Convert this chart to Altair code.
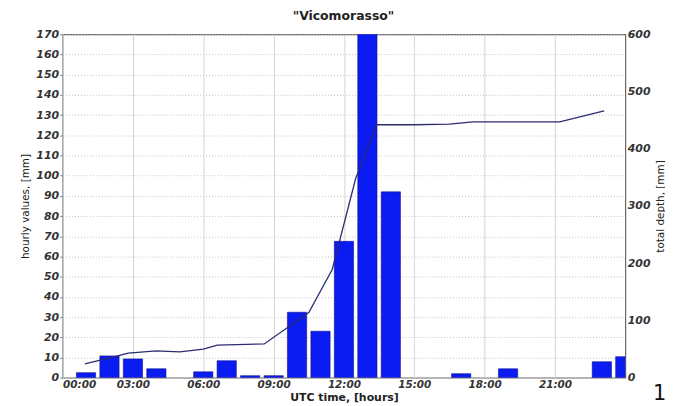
import altair as alt
import pandas as pd

# hourly rainfall (bars, left axis)
hours = list(range(1, 25))
hourly_mm = [2.5, 10.8, 9.3, 4.4, 0, 2.9, 8.4, 1, 1, 32.4, 23, 67.5, 175, 92,
             0, 0, 2, 0, 4.4, 0, 0, 0, 7.9, 10.4]

# cumulative depth (line, right axis)
line_hours = [0.95, 2.35, 2.8, 4.0, 5.0, 6.0, 6.6, 8.6, 10.5, 11.5, 12.5, 13.4,
              15.0, 16.5, 17.5, 21.2, 23.1]
total_mm = [24, 38, 43, 47, 45, 50, 57, 59, 114, 189, 348, 442,
            442, 443, 447, 447, 466]

x_tick_values = [0, 3, 6, 9, 12, 15, 18, 21]
x_tick_labels = ["00:00", "03:00", "06:00", "09:00", "12:00", "15:00", "18:00", "21:00"]
left_ticks = list(range(0, 171, 10))
right_ticks = list(range(0, 601, 100))
title_text = ['"Vicomorasso"']
corner_text = ["1"]

FONT = "DejaVu Sans"

bars_df = pd.DataFrame({"hour": hours, "v": hourly_mm})
line_df = pd.DataFrame({"hour": line_hours, "total": total_mm})
title_df = pd.DataFrame({"t": title_text})
txt_df = pd.DataFrame({"t": corner_text})

label_map = "{" + ",".join(f"'{v}':'{l}'" for v, l in zip(x_tick_values, x_tick_labels)) + "}"

x_scale = alt.Scale(domain=[0, 24], nice=False, zero=False)

x_axis = alt.Axis(
    values=x_tick_values,
    labelExpr=f"{label_map}[datum.value + '']",
    title="UTC time, [hours]",
    titleFont=FONT, titleFontSize=11, titleFontWeight="bold", titleColor="#222",
    titlePadding=1,
    labelFont=FONT, labelFontSize=10.5, labelFontWeight="bold", labelFontStyle="italic",
    labelColor="#333", labelPadding=2,
    grid=True, gridColor="#d4d4d4", gridWidth=1,
    domain=False, ticks=False,
)

bars = (
    alt.Chart(bars_df)
    .transform_filter("datum.v > 0")
    .transform_calculate(x0="datum.hour - 0.41", x1="datum.hour + 0.41")
    .mark_rect(color="#0a1cf2", stroke="#10108a", strokeWidth=0.6, clip=True)
    .encode(
        x=alt.X("x0:Q", scale=x_scale, axis=x_axis),
        x2="x1:Q",
        y=alt.Y(
            "v:Q",
            scale=alt.Scale(domain=[0, 170], nice=False),
            axis=alt.Axis(
                orient="left", values=left_ticks, title="hourly values, [mm]",
                titleFont=FONT, titleFontSize=10.5, titleFontWeight="normal",
                titleColor="#222", titlePadding=5,
                labelFont=FONT, labelFontSize=11, labelFontWeight="bold",
                labelFontStyle="italic", labelColor="#333", labelPadding=1,
                grid=True, gridColor="#c4c4c4", gridDash=[1, 2], gridWidth=1,
                domain=False, ticks=True, tickSize=3, tickColor="#888",
            ),
        ),
        y2=alt.datum(0),
    )
)

line = (
    alt.Chart(line_df)
    .mark_line(color="#2c2c70", strokeWidth=1.3, clip=True)
    .encode(
        x=alt.X("hour:Q", scale=x_scale),
        y=alt.Y(
            "total:Q",
            scale=alt.Scale(domain=[0, 600], nice=False),
            axis=alt.Axis(
                orient="right", values=right_ticks, title="total depth, [mm]",
                titleAngle=270, titleBaseline="top", titleFont=FONT, titleFontSize=10.5,
                titleFontWeight="normal", titleColor="#222", titlePadding=6,
                labelFont=FONT, labelFontSize=11, labelFontWeight="bold",
                labelFontStyle="italic", labelColor="#333", labelPadding=2,
                grid=False, domain=False, ticks=False,
            ),
        ),
    )
)

title = (
    alt.Chart(title_df)
    .mark_text(font=FONT, fontSize=12.5, fontWeight="bold", color="#222",
               align="center", baseline="alphabetic")
    .encode(text="t:N", x=alt.value(283), y=alt.value(-14))
)

corner = (
    alt.Chart(txt_df)
    .mark_text(font=FONT, fontSize=21, color="#111", align="left", baseline="alphabetic")
    .encode(text="t:N", x=alt.value(595), y=alt.value(368))
)

chart = (
    alt.layer(bars, line, title, corner)
    .resolve_scale(y="independent")
    .properties(
        width=567,
        height=346,
        autosize=alt.AutoSizeParams(type="none"),
        padding={"left": 55, "top": 25, "right": 40, "bottom": 25},
        background="white",
    )
    .configure_view(stroke="#666", strokeWidth=1.2)
)

chart.save("out.html", embed_options={"renderer": "svg", "actions": False})
